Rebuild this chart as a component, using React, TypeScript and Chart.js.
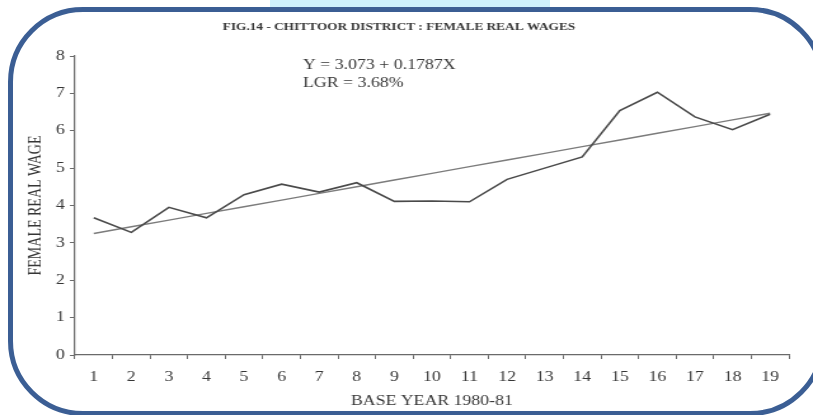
import { useEffect, useRef } from "react";
import { Chart, registerables } from "chart.js";

Chart.register(...registerables);

// Years counted from the 1980-81 base year
const YEARS = ["1", "2", "3", "4", "5", "6", "7", "8", "9", "10", "11", "12", "13", "14", "15", "16", "17", "18", "19"];

// Female real wage, Chittoor district
const FEMALE_REAL_WAGE = [3.67, 3.28, 3.95, 3.67, 4.29, 4.57, 4.36, 4.61, 4.11, 4.12, 4.1, 4.7, 5.0, 5.3, 6.54, 7.03, 6.37, 6.03, 6.44];

// Fitted linear trend Y = a + bX and the linear growth rate
const TREND_INTERCEPT = 3.073;
const TREND_SLOPE = 0.1787;
const LGR_PERCENT = "3.68";

const Y_MIN = 0;
const Y_MAX = 8;
const Y_STEP = 1;

const TITLE = "FIG.14 - CHITTOOR DISTRICT : FEMALE REAL WAGES";
const X_TITLE = "BASE YEAR 1980-81";
const Y_TITLE = "FEMALE REAL WAGE";

// The plate's type is set wide, so the chart is drawn on a narrower
// buffer and the canvas is widened to the page width.
const PAGE_W = 813;
const PAGE_H = 415;
const BUFFER_W = 640;

const SERIF = "'Liberation Serif', 'Times New Roman', serif";
const INK = "#363636";
const AXIS = "#6a6a6a";

const figureText = {
  id: "figureText",
  afterDraw(chart: Chart) {
    const { ctx } = chart;
    ctx.save();
    ctx.fillStyle = INK;
    ctx.textBaseline = "middle";
    ctx.textAlign = "center";
    ctx.font = `bold 10.5px ${SERIF}`;
    ctx.fillText(TITLE, 314, 27);
    ctx.textAlign = "left";
    ctx.font = `14px ${SERIF}`;
    ctx.fillText(`Y = ${TREND_INTERCEPT} + ${TREND_SLOPE}X`, 238.5, 65);
    ctx.fillText(`LGR = ${LGR_PERCENT}%`, 238.5, 83);
    ctx.restore();
  },
};

export default function App() {
  const canvasRef = useRef<HTMLCanvasElement | null>(null);

  useEffect(() => {
    const canvas = canvasRef.current;
    if (!canvas) return;

    const trend = YEARS.map((y) => TREND_INTERCEPT + TREND_SLOPE * Number(y));

    const chart = new Chart(canvas, {
      type: "line",
      data: {
        labels: YEARS,
        datasets: [
          {
            label: "Female real wage",
            data: FEMALE_REAL_WAGE,
            borderColor: "#4a4a4a",
            borderWidth: 1.6,
            pointRadius: 0,
            tension: 0,
            fill: false,
          },
          {
            label: "Trend",
            data: trend,
            borderColor: "#7c7c7c",
            borderWidth: 1.4,
            pointRadius: 0,
            tension: 0,
            fill: false,
          },
        ],
      },
      options: {
        responsive: false,
        animation: false,
        devicePixelRatio: 1,
        events: [],
        layout: { padding: { top: 56, right: 19, left: 0, bottom: 0 } },
        plugins: {
          legend: { display: false },
          tooltip: { enabled: false },
          title: { display: false },
        },
        scales: {
          x: {
            type: "category",
            offset: true,
            grid: {
              offset: true,
              drawOnChartArea: false,
              drawTicks: true,
              tickLength: 4,
              color: AXIS,
              lineWidth: 1,
            },
            border: { color: AXIS, width: 1.2 },
            ticks: {
              color: INK,
              font: { family: SERIF, size: 14 },
              padding: 10,
              maxRotation: 0,
              autoSkip: false,
            },
            title: {
              display: true,
              text: X_TITLE,
              color: INK,
              font: { family: SERIF, size: 14 },
              padding: { top: 0, bottom: 5 },
            },
            afterFit: (scale: any) => {
              scale.height = 60;
            },
          },
          y: {
            min: Y_MIN,
            max: Y_MAX,
            ticks: {
              stepSize: Y_STEP,
              color: INK,
              font: { family: SERIF, size: 14 },
              padding: 4,
            },
            grid: {
              drawOnChartArea: false,
              drawTicks: true,
              tickLength: 4,
              color: AXIS,
              lineWidth: 1,
            },
            border: { color: AXIS, width: 1.2 },
            title: {
              display: true,
              text: Y_TITLE,
              color: INK,
              font: { family: SERIF, size: 14 },
              padding: { top: 20, bottom: 0 },
            },
            afterFit: (scale: any) => {
              scale.width = 59;
            },
          },
        },
      },
      plugins: [figureText],
    });

    return () => chart.destroy();
  }, []);

  return (
    <div
      style={{
        position: "absolute",
        left: 0,
        top: 0,
        width: PAGE_W,
        height: PAGE_H,
        overflow: "hidden",
        background: "#ffffff",
      }}
    >
      <div
        style={{
          position: "absolute",
          left: 270,
          top: 0,
          width: 280,
          height: 12,
          background: "#cdf0fc",
        }}
      />
      <div
        style={{
          position: "absolute",
          left: 8.25,
          top: 7.25,
          width: 816.5,
          height: 408.5,
          border: "5.5px solid #3b5e94",
          borderRadius: 75,
          boxSizing: "border-box",
        }}
      />
      <canvas
        ref={canvasRef}
        width={BUFFER_W}
        height={PAGE_H}
        style={{
          position: "absolute",
          left: 0,
          top: 0,
          width: `${PAGE_W}px`,
          height: `${PAGE_H}px`,
        }}
      />
    </div>
  );
}
